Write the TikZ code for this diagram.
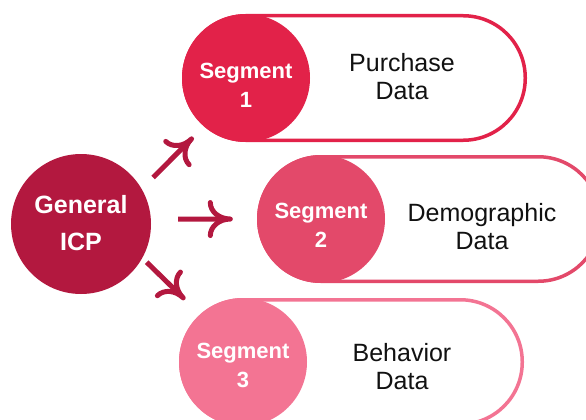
\documentclass[tikz,border=0pt]{standalone}
\usepackage{fontspec}
\setmainfont{Liberation Sans}
\usetikzlibrary{arrows.meta}
\definecolor{icpred}{HTML}{B3183F}
\definecolor{segone}{HTML}{E22249}
\definecolor{segtwo}{HTML}{E3496A}
\definecolor{segthree}{HTML}{F37493}
\definecolor{textblack}{HTML}{111111}
\pgfdeclarearrow{
  name=Flare,
  parameters={\the\pgfarrowlength,\the\pgfarrowwidth,\the\pgflinewidth},
  setup code={
    \pgfarrowssettipend{.5\pgflinewidth}
    \pgfarrowssetlineend{-.5\pgflinewidth}
    \pgfarrowssetbackend{-\pgfarrowlength}
    \pgfarrowssavethe\pgfarrowlength
    \pgfarrowssavethe\pgfarrowwidth
  },
  drawing code={
    \pgfsetdash{}{0pt}
    \pgfsetroundcap
    \pgfsetroundjoin
    \pgfpathmoveto{\pgfqpoint{-\pgfarrowlength}{.5\pgfarrowwidth}}
    \pgfpathcurveto{\pgfqpoint{-\pgfarrowlength}{.224\pgfarrowwidth}}{\pgfqpoint{-.552\pgfarrowlength}{0pt}}{\pgfqpoint{0pt}{0pt}}
    \pgfpathcurveto{\pgfqpoint{-.552\pgfarrowlength}{0pt}}{\pgfqpoint{-\pgfarrowlength}{-.224\pgfarrowwidth}}{\pgfqpoint{-\pgfarrowlength}{-.5\pgfarrowwidth}}
    \pgfusepathqstroke
  },
  defaults={length=20pt, width=34pt}
}
\tikzset{
  pill/.style={draw=#1, fill=white, line width=3.5pt, rounded corners=62pt, minimum width=341.5pt, minimum height=124.5pt, inner sep=0pt},
  segcircle/.style={circle, fill=#1, minimum size=128pt, inner sep=0pt},
  segtext/.style={white, align=center, font=\fontsize{22}{29}\selectfont\bfseries},
  datatext/.style={textblack, align=center, font=\fontsize{25}{28}\selectfont},
  flow/.style={icpred, line width=5pt, -{Flare[length=20pt, width=33pt, line width=4.5pt]}}
}
\begin{document}
\begin{tikzpicture}[x=1pt,y=-1pt]
    \clip (0,0) rectangle (586,420);
    \node[pill=segone] (pill1) at (354.5,78) {};
    \node[segcircle=segone] (seg1) at (246,78) {};
    \node[segtext] (seg1text) at (246,85.5) {Segment\\1};
    \node[datatext] (data1) at (402,76.5) {Purchase\\Data};
    \node[pill=segtwo] (pill2) at (429.5,219) {};
    \node[segcircle=segtwo] (seg2) at (321,219) {};
    \node[segtext] (seg2text) at (321,225.5) {Segment\\2};
    \node[datatext] (data2) at (482,226.5) {Demographic\\Data};
    \node[pill=segthree] (pill3) at (351.5,362) {};
    \node[segcircle=segthree] (seg3) at (243,362) {};
    \node[segtext] (seg3text) at (243,365.5) {Segment\\3};
    \node[datatext] (data3) at (402,366.5) {Behavior\\Data};
    \node[circle, fill=icpred, minimum size=140pt, inner sep=0pt] (gen) at (81,224) {};
    \node[white, align=center, font=\fontsize{25}{37}\selectfont\bfseries] (gentext) at (81,223) {General\\ICP};
    \draw[flow, shorten <=16pt, shorten >=15pt] (gen.30) -- (seg1.229);
    \draw[flow, shorten <=27pt, shorten >=24pt] (gen.4) -- (seg2.west);
    \draw[flow, shorten <=6pt, shorten >=21pt] (gen.-29) -- (seg3.132);
\end{tikzpicture}
\end{document}
